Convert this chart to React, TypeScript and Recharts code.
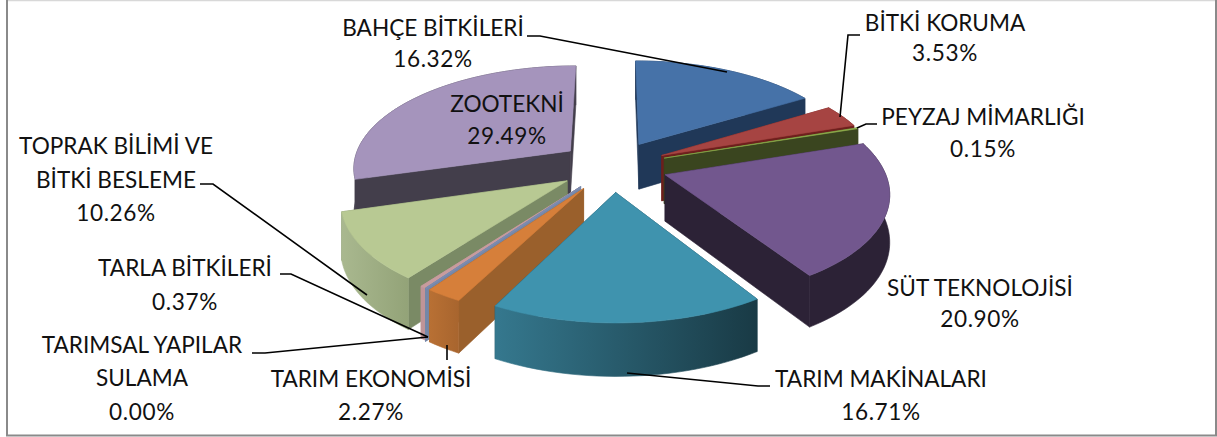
import React from "react";
import { Pie, PieChart } from "recharts";

// clockwise from 12 o'clock, same order as the source sheet
const names = [
  "BAHÇE BİTKİLERİ",
  "BİTKİ KORUMA",
  "PEYZAJ MİMARLIĞI",
  "SÜT TEKNOLOJİSİ",
  "TARIM MAKİNALARI",
  "TARIM EKONOMİSİ",
  "TARIMSAL YAPILAR SULAMA",
  "TARLA BİTKİLERİ",
  "TOPRAK BİLİMİ VE BİTKİ BESLEME",
  "ZOOTEKNİ",
];
const values = [16.32, 3.53, 0.15, 20.9, 16.71, 2.27, 0.0, 0.37, 10.26, 29.49];

const topColors = ["#4672A8", "#A64442", "#8FAD4C", "#72578E", "#3F93AE", "#D67F3A", "#7D8CB0", "#C89C9E", "#B8C993", "#A594BC"];
const cutColors = ["#203858", "#6E1F1D", "#3A451F", "#2C2236", "#1C4350", "#9A602C", "#7587A8", "#C09498", "#7A8A65", "#433E4B"];
const rimLeft = ["#203858", "#6E1F1D", "#3A451F", "#2C2236", "#35788E", "#B87034", "#7587A8", "#C09498", "#A9B88F", "#433E4B"];
const rimRight = ["#203858", "#6E1F1D", "#3A451F", "#2C2236", "#193A45", "#A8652E", "#7587A8", "#C09498", "#93A378", "#433E4B"];

// back slices first so the front ones overlap them
const paintOrder = [9, 0, 1, 2, 3, 8, 7, 6, 5, 4];

const rows = names.map((name, i) => ({ name, value: values[i] }));

const labels = [
  { lines: ["BAHÇE BİTKİLERİ", "16.32%"], x: 433, y: [36, 67] },
  { lines: ["BİTKİ KORUMA", "3.53%"], x: 945, y: [31, 61] },
  { lines: ["PEYZAJ MİMARLIĞI", "0.15%"], x: 983, y: [125, 157] },
  { lines: ["SÜT TEKNOLOJİSİ", "20.90%"], x: 980, y: [296, 327] },
  { lines: ["TARIM MAKİNALARI", "16.71%"], x: 881, y: [387, 420] },
  { lines: ["TARIM EKONOMİSİ", "2.27%"], x: 371, y: [387, 420] },
  { lines: ["TARIMSAL YAPILAR", "SULAMA", "0.00%"], x: 142, y: [353, 386, 420] },
  { lines: ["TARLA BİTKİLERİ", "0.37%"], x: 185, y: [276, 310] },
  { lines: ["TOPRAK BİLİMİ VE", "BİTKİ BESLEME", "10.26%"], x: 116, y: [154, 188, 221] },
  { lines: ["ZOOTEKNİ", "29.49%"], x: 507, y: [112, 144] },
];

const leaders = [
  "527,36 540,36 727,72",
  "860,35 848,35 840,117",
  "877,124 866,124 857,128",
  "770,386 758,386 627,373",
  "447,345 447,360",
  "252,353 265,353 428,337",
  "280,274 291,274 428,337",
  "200,184 213,184 367,295",
];

const TILT = 0.468;
const PERSPECTIVE = 0.15;
const EXPLODE = 0.25;

function Slice3D(props: any) {
  const { cx, cy, outerRadius: R, startAngle, endAngle, index } = props;
  const startClock = 90 - startAngle;
  const endClock = 90 - endAngle;
  const midClock = ((startClock + endClock) / 2) * (Math.PI / 180);
  const offU = EXPLODE * Math.sin(midClock);
  const offV = -EXPLODE * Math.cos(midClock);

  // plane point -> screen, r is a fraction of the radius
  const project = (clock: number, r: number, drop = false) => {
    const a = (clock * Math.PI) / 180;
    const u = offU + r * Math.sin(a);
    const v = offV - r * Math.cos(a);
    const s = 1 / (1 - PERSPECTIVE * v);
    const depth = drop ? 46 + 6 * v : 0;
    return { x: cx + R * u * s, y: cy + R * TILT * v * s + depth, v };
  };

  const steps = Math.max(2, Math.ceil((endClock - startClock) / 2));
  const rimAngles = Array.from({ length: steps + 1 }, (_, k) => startClock + ((endClock - startClock) * k) / steps);
  const apex = project(0, 0);
  const apexLow = project(0, 0, true);
  const rimTop = rimAngles.map((a) => project(a, 1));
  const rimLow = rimAngles.map((a) => project(a, 1, true));
  const pts = (list: { x: number; y: number }[]) => list.map((p) => `${p.x},${p.y}`).join(" ");

  const first = rimTop[0];
  const last = rimTop[rimTop.length - 1];
  const gradId = `rim-${index}`;
  const xs = rimTop.map((p) => p.x);
  const thin = values[index] < 0.05 ? 1.6 : 0.6;

  const walls = [
    { z: (apex.v + first.v) / 2, fill: cutColors[index], line: cutColors[index], points: [apex, first, rimLow[0], apexLow] },
    { z: (apex.v + last.v) / 2, fill: cutColors[index], line: cutColors[index], points: [apex, last, rimLow[rimLow.length - 1], apexLow] },
    {
      z: rimTop.reduce((t, p) => t + p.v, 0) / rimTop.length + 0.3,
      fill: `url(#${gradId})`,
      line: `url(#${gradId})`,
      points: [...rimTop, ...[...rimLow].reverse()],
    },
  ].sort((a, b) => a.z - b.z);

  return (
    <g>
      <defs>
        <linearGradient id={gradId} gradientUnits="userSpaceOnUse" x1={Math.min(...xs)} x2={Math.max(...xs) + 0.01} y1={0} y2={0}>
          <stop offset="0%" stopColor={rimLeft[index]} />
          <stop offset="100%" stopColor={rimRight[index]} />
        </linearGradient>
      </defs>
      {walls.map((w, k) => (
        <polygon key={k} points={pts(w.points)} fill={w.fill} stroke={w.line} strokeWidth={thin} />
      ))}
      <polygon points={pts([apex, ...rimTop])} fill={topColors[index]} stroke={topColors[index]} strokeWidth={thin} />
    </g>
  );
}

export default function App() {
  return (
    <div style={{ position: "absolute", left: 0, top: 0, width: 1217, height: 437, background: "#fff" }}>
      <PieChart width={1217} height={437} margin={{ top: 0, right: 0, bottom: 0, left: 0 }}>
        <line x1={6} x2={1217} y1={0.5} y2={0.5} stroke="#d8d8d8" strokeWidth={1.5} />
        <polyline points="7,0 7,435.5 1216,435.5 1216,0" fill="none" stroke="#8a8a8a" strokeWidth={2} />
        {paintOrder.map((i) => (
          <Pie
            key={i}
            data={rows}
            dataKey="value"
            nameKey="name"
            cx={613}
            cy={166}
            innerRadius={0}
            outerRadius={218}
            startAngle={90}
            endAngle={-270}
            stroke="none"
            zIndex={-1}
            isAnimationActive={false}
            label={false}
            labelLine={false}
            shape={(p: any) => (p.index === i ? <Slice3D {...p} /> : <g />)}
          />
        ))}
        {leaders.map((points) => (
          <polyline key={points} points={points} fill="none" stroke="#000" strokeWidth={1.6} />
        ))}
        {labels.map((l) =>
          l.lines.map((line, k) => (
            <text
              key={line}
              x={l.x}
              y={l.y[k]}
              textAnchor="middle"
              fontFamily="Lato, sans-serif"
              fontSize={22.6}
              letterSpacing={line.endsWith("%") ? 0.6 : 0}
              fill="#111"
            >
              {line}
            </text>
          )),
        )}
      </PieChart>
    </div>
  );
}
